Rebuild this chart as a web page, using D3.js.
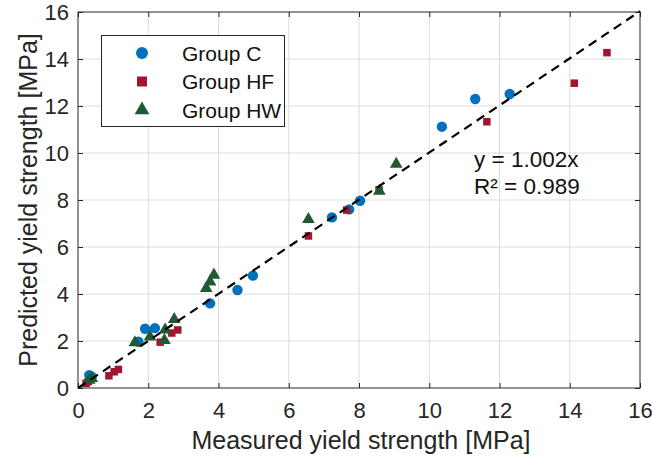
<!DOCTYPE html>
<html>
<head>
<meta charset="utf-8">
<script src="https://cdn.jsdelivr.net/npm/d3@7"></script>
<style>
  html, body { margin: 0; padding: 0; background: #fff; }
  svg { display: block; font-family: Arial, "Liberation Sans", sans-serif; }
</style>
</head>
<body>
<svg id="chart" width="652" height="460"></svg>
<script>
// Measured vs. predicted yield strength [MPa] for each group
const groupC_measured  = [0.32, 0.39, 1.72, 1.91, 2.19, 3.76, 4.54, 4.98, 7.23, 7.72, 8.03, 10.36, 11.31, 12.29];
const groupC_predicted = [0.55, 0.48, 1.97, 2.52, 2.55, 3.60, 4.17, 4.78, 7.26, 7.60, 7.97, 11.12, 12.30, 12.51];

const groupHF_measured  = [0.23, 0.29, 0.88, 1.03, 1.15, 2.34, 2.67, 2.84, 6.56, 7.65, 8.57, 11.64, 14.13, 15.06];
const groupHF_predicted = [0.20, 0.27, 0.52, 0.69, 0.79, 1.95, 2.34, 2.47, 6.47, 7.57, 8.43, 11.33, 12.97, 14.27];

const groupHW_measured  = [0.32, 0.39, 1.62, 2.05, 2.46, 2.48, 2.74, 3.65, 3.76, 3.87, 6.56, 8.58, 9.06];
const groupHW_predicted = [0.34, 0.41, 1.93, 2.18, 2.03, 2.47, 2.92, 4.24, 4.52, 4.81, 7.18, 8.38, 9.53];

const tickValues = [0, 2, 4, 6, 8, 10, 12, 14, 16];
const fitSlope = 1.002;
const fitLabel = "y = 1.002x";
const r2Label = "R\u00b2 = 0.989";
const xTitle = "Measured yield strength [MPa]";
const yTitle = "Predicted yield strength [MPa]";
const legendNames = ["Group C", "Group HF", "Group HW"];

const colors = { C: "#0072BD", HF: "#A2142F", HW: "#1F5A34" };

const svg = d3.select("#chart");
const m = { left: 78, right: 640, top: 12, bottom: 388 };

const x = d3.scaleLinear().domain([0, 16]).range([m.left, m.right]);
const y = d3.scaleLinear().domain([0, 16]).range([m.bottom, m.top]);

// grid
const grid = svg.append("g");
grid.selectAll("line.gx").data(tickValues.slice(1, -1)).join("line")
  .attr("x1", d => x(d)).attr("x2", d => x(d))
  .attr("y1", m.top).attr("y2", m.bottom)
  .attr("stroke", "#dcdcdc").attr("stroke-width", 1);
grid.selectAll("line.gy").data(tickValues.slice(1, -1)).join("line")
  .attr("y1", d => y(d)).attr("y2", d => y(d))
  .attr("x1", m.left).attr("x2", m.right)
  .attr("stroke", "#dcdcdc").attr("stroke-width", 1);

// axes with inward ticks
const axisColor = "#262626";
const tickLen = 5;
const xAxis = svg.append("g").attr("transform", `translate(0,${m.bottom})`)
  .call(d3.axisBottom(x).tickValues(tickValues).tickSizeInner(-tickLen).tickSizeOuter(0).tickPadding(14));
const yAxis = svg.append("g").attr("transform", `translate(${m.left},0)`)
  .call(d3.axisLeft(y).tickValues(tickValues).tickSizeInner(-tickLen).tickSizeOuter(0).tickPadding(9));
const xTop = svg.append("g").attr("transform", `translate(0,${m.top})`)
  .call(d3.axisTop(x).tickValues(tickValues).tickSizeInner(-tickLen).tickSizeOuter(0).tickFormat(""));
const yRight = svg.append("g").attr("transform", `translate(${m.right},0)`)
  .call(d3.axisRight(y).tickValues(tickValues).tickSizeInner(-tickLen).tickSizeOuter(0).tickFormat(""));

[xAxis, yAxis, xTop, yRight].forEach(g => {
  g.select(".domain").remove();
  g.selectAll(".tick line").attr("stroke", axisColor);
  g.selectAll(".tick text").attr("fill", axisColor).style("font-size", "22px")
    .style("font-family", "Arial, 'Liberation Sans', sans-serif");
});

// frame
svg.append("rect")
  .attr("x", m.left).attr("y", m.top)
  .attr("width", m.right - m.left).attr("height", m.bottom - m.top)
  .attr("fill", "none").attr("stroke", axisColor).attr("stroke-width", 1);

// axis titles
svg.append("text")
  .attr("x", 361).attr("y", 449)
  .attr("text-anchor", "middle").attr("fill", axisColor)
  .style("font-size", "25px").text(xTitle);
svg.append("text")
  .attr("transform", `translate(37,${(m.top + m.bottom) / 2}) rotate(-90)`)
  .attr("text-anchor", "middle").attr("fill", axisColor)
  .style("font-size", "25px").text(yTitle);

// markers
const plot = svg.append("g");
const symCircle = d3.symbol().type(d3.symbolCircle).size(Math.PI * 5.2 * 5.2);
const symSquare = d3.symbol().type(d3.symbolSquare).size(7.5 * 7.5);
const symTri = d3.symbol().type(d3.symbolTriangle).size(70);

function drawGroup(xs, ys, sym, color) {
  plot.append("g").selectAll("path").data(xs.map((v, i) => [v, ys[i]])).join("path")
    .attr("d", sym)
    .attr("transform", d => `translate(${x(d[0])},${y(d[1])})`)
    .attr("fill", color);
}
drawGroup(groupC_measured, groupC_predicted, symCircle, colors.C);
drawGroup(groupHF_measured, groupHF_predicted, symSquare, colors.HF);
drawGroup(groupHW_measured, groupHW_predicted, symTri, colors.HW);

// linear fit through origin
svg.append("line")
  .attr("x1", x(0)).attr("y1", y(0))
  .attr("x2", x(16)).attr("y2", y(16 * fitSlope))
  .attr("stroke", "#000").attr("stroke-width", 2.2)
  .attr("stroke-dasharray", "9,6");

svg.append("text").attr("x", 474).attr("y", 167).attr("fill", "#111")
  .style("font-size", "22.5px").text(fitLabel);
svg.append("text").attr("x", 474).attr("y", 194).attr("fill", "#111")
  .style("font-size", "22.5px").text(r2Label);

// legend
const lg = svg.append("g");
lg.append("rect").attr("x", 101.5).attr("y", 35.5).attr("width", 183).attr("height", 91)
  .attr("fill", "#fff").attr("stroke", axisColor).attr("stroke-width", 1);
const legendSyms = [
  d3.symbol().type(d3.symbolCircle).size(Math.PI * 6 * 6),
  d3.symbol().type(d3.symbolSquare).size(10 * 10),
  d3.symbol().type(d3.symbolTriangle).size(95)
];
const legendColors = [colors.C, colors.HF, colors.HW];
legendNames.forEach((name, i) => {
  const cy = 53 + i * 28.5;
  lg.append("path").attr("d", legendSyms[i]()).attr("transform", `translate(142,${cy})`)
    .attr("fill", legendColors[i]);
  lg.append("text").attr("x", 182).attr("y", cy + 7.5).attr("fill", "#111")
    .style("font-size", "21px").text(name);
});
</script>
</body>
</html>
